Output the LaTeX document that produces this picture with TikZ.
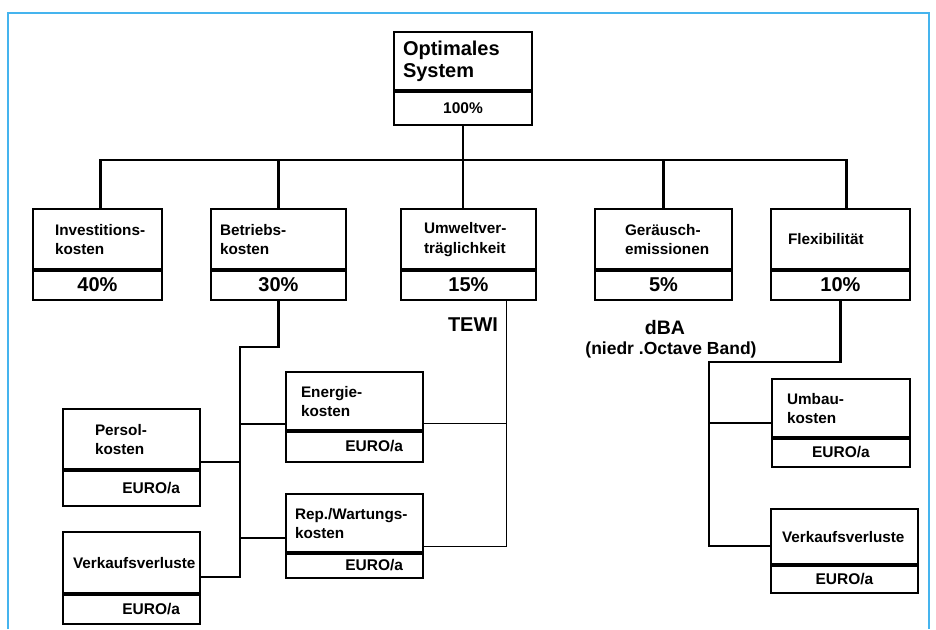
\documentclass[tikz,border=0pt]{standalone}
\usepackage{fontspec}
\setmainfont{Liberation Sans}
\definecolor{frameblue}{HTML}{45B4EE}
\hyphenpenalty=10000
\exhyphenpenalty=10000
\newcommand{\lblfont}{\fontsize{15.3}{19.5}\selectfont\bfseries}
\newcommand{\pctfont}{\fontsize{20}{24}\selectfont\bfseries}
\newcommand{\eurofont}{\fontsize{15.5}{18}\selectfont\bfseries}
\tikzset{head/.style={draw,line width=1.6pt,outer sep=0pt,inner sep=0pt,anchor=north west,align=left,font=\lblfont},
  pct/.style={draw,line width=1.6pt,outer sep=0pt,inner sep=0pt,anchor=north west,font=\pctfont},
  euro/.style={pct,font=\eurofont,align=right,text width=97pt},
  euroc/.style={pct,font=\eurofont},
  divider/.style={line width=4pt},
  conn/.style={line width=2.2pt},
  tewiline/.style={line width=0.9pt},
  frameline/.style={line width=1.6pt,draw=frameblue},
  note/.style={font=\pctfont}}

\begin{document}
\begin{tikzpicture}[x=1pt,y=-1pt]
\useasboundingbox (0,0) rectangle (936,629);
\draw[frameline] (8,629) |- (929,13) -- (929,629);
% top
\node[head,minimum width=138,minimum height=59,text width=120pt,font=\fontsize{20}{22.5}\selectfont\bfseries] (opt) at (394,32) {Optimales\\System};
\node[euroc,minimum width=138,minimum height=34] (opt-v) at (opt.south west) {100\%};
% criteria
\node[head,minimum width=129,minimum height=61,text width=85pt] (inv) at (33,209) {Investitions-\\kosten};
\node[pct,minimum width=129,minimum height=30] (inv-v) at (inv.south west) {40\%};
\node[head,minimum width=135,minimum height=61,text width=117pt] (betr) at (211,209) {Betriebs-\\kosten};
\node[pct,minimum width=135,minimum height=30] (betr-v) at (betr.south west) {30\%};
\node[head,minimum width=135,minimum height=61,text width=89pt] (umw) at (401,209) {Umweltver-\\träglichkeit};
\node[pct,minimum width=135,minimum height=30] (umw-v) at (umw.south west) {15\%};
\node[head,minimum width=137,minimum height=61,text width=77pt] (ger) at (595,209) {Geräusch-\\emissionen};
\node[pct,minimum width=137,minimum height=30] (ger-v) at (ger.south west) {5\%};
\node[head,minimum width=139,minimum height=61,text width=105pt] (flex) at (771,209) {Flexibilität};
\node[pct,minimum width=139,minimum height=30] (flex-v) at (flex.south west) {10\%};
% cost items
\node[head,minimum width=137,minimum height=61,text width=73pt] (pers) at (63,409) {Persol-\\kosten};
\node[euro,minimum width=137,minimum height=36] (pers-v) at (pers.south west) {EURO/a};
\node[head,minimum width=137,minimum height=62,text width=117pt] (vvl) at (63,532) {Verkaufsverluste};
\node[euro,minimum width=137,minimum height=30] (vvl-v) at (vvl.south west) {EURO/a};
\node[head,minimum width=137,minimum height=59,text width=107pt] (ener) at (286,372) {Energie-\\kosten};
\node[euro,minimum width=137,minimum height=31] (ener-v) at (ener.south west) {EURO/a};
\node[head,minimum width=137,minimum height=59,text width=119pt] (rep) at (286,494) {Rep./Wartungs-\\kosten};
\node[euro,minimum width=137,minimum height=25] (rep-v) at (rep.south west) {EURO/a};
\node[head,minimum width=138,minimum height=59,text width=108pt] (umb) at (772,379) {Umbau-\\kosten};
\node[euroc,minimum width=138,minimum height=29] (umb-v) at (umb.south west) {EURO/a};
\node[head,minimum width=147,minimum height=56,text width=125pt] (vvr) at (771,509) {Verkaufsverluste};
\node[euroc,minimum width=147,minimum height=28] (vvr-v) at (vvr.south west) {EURO/a};
\foreach \b in {opt,inv,betr,umw,ger,flex,pers,vvl,ener,rep,umb,vvr}
  \draw[divider] (\b.south west) -- (\b.south east);
% notes
\node[note] (tewi) at (473,325) {TEWI};
\node[note,font=\fontsize{19.5}{22}\selectfont\bfseries] (dba) at (665,328) {dBA};
\node[note,font=\fontsize{17.5}{20}\selectfont\bfseries] (band) at (671,350) {(niedr .Octave Band)};
% tree
\coordinate (bar) at (463,160);
\draw[conn] (opt-v.south) -- (opt-v.south |- umw.north);
\draw[conn] ([xshift=3pt]inv.north) |- (bar) -| ([xshift=6pt]flex.north);
\draw[conn] (bar -| betr.north) -- (betr.north);
\draw[conn] (bar -| ger.north) -- (ger.north);
\coordinate (bk) at (240,347);
\draw[conn] (betr-v.south) |- (bk) |- ([yshift=17pt]vvl.south east);
\draw[conn] (bk) |- ([yshift=7pt]ener.south west);
\draw[conn] (bk) |- ([yshift=8pt]pers.south east);
\draw[conn] (bk) |- ([yshift=15pt]rep.south west);
\coordinate (tw) at ([xshift=-30pt]umw-v.south east);
\draw[tewiline] (tw) |- ([yshift=8pt]ener.south east);
\draw[tewiline] (tw) |- ([yshift=7pt]rep.south east);
\coordinate (fk) at (709,362);
\draw[conn] (flex-v.south) |- (fk) |- ([yshift=19pt]vvr.south west);
\draw[conn] (fk) |- ([yshift=15pt]umb.south west);
\end{tikzpicture}
\end{document}
